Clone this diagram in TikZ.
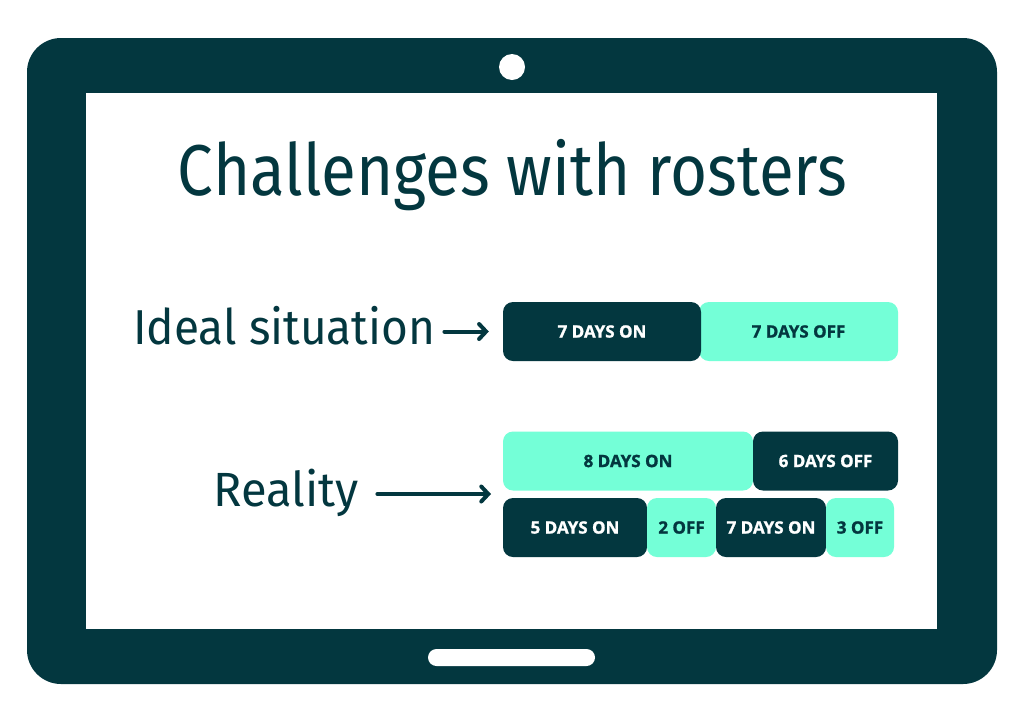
\documentclass[tikz,border=0pt]{standalone}
\usepackage{fontspec}
\usepackage{graphicx}
\usetikzlibrary{arrows.meta}
\newfontfamily\titlefont{Fira Sans}
\newfontfamily\boxfont{Open Sans}[BoldFeatures={FakeBold=1.3}]
\definecolor{tdark}{HTML}{03373F}
\definecolor{tlight}{HTML}{74FFD7}
\tikzset{
  rbox/.style={rounded corners=10pt, inner sep=0pt, minimum height=59pt,
    font=\boxfont\bfseries\fontsize{17}{17}\selectfont},
  darkbox/.style={rbox, fill=tdark, text=white},
  lightbox/.style={rbox, fill=tlight, text=tdark},
  lbl/.style={inner sep=0pt, anchor=base west, text=tdark},
  arr/.style={draw=tdark, line width=4pt, line cap=round,
    -{Straight Barb[length=7pt,width=15pt,line cap=round]}}
}
\begin{document}
\begin{tikzpicture}[x=1pt,y=-1pt]
\useasboundingbox (0,0) rectangle (1024,724);
\fill[white] (0,0) rectangle (1024,724);
% tablet
\fill[tdark, rounded corners=34pt] (27,38) rectangle (997,684);
\fill[white] (86,93) rectangle (937,629);
\fill[white] (512,67) circle (13pt);
\fill[white, rounded corners=8.5pt] (428,649) rectangle (595,666);
% title
\node[inner sep=0pt, anchor=base, text=tdark] (title) at (512.5,195)
  {\resizebox{669pt}{\height}{\titlefont\fontsize{72}{72}\selectfont Challenges with rosters}};
% labels
\node[lbl] (ideal) at (133,344)
  {\resizebox{302pt}{\height}{\titlefont\fontsize{49}{49}\selectfont Ideal situation}};
\node[lbl] (reality) at (213,506)
  {\resizebox{145pt}{\height}{\titlefont\fontsize{48}{48}\selectfont Reality}};
% ideal row
\node[lightbox, minimum width=199pt] (off7) at (798.5,331.5) {7 DAYS OFF};
\node[darkbox, minimum width=198pt] (on7) at (602,331.5) {7 DAYS ON};
% reality row 1
\node[lightbox, minimum width=250pt] (on8) at (628,461) {8 DAYS ON};
\node[darkbox, minimum width=145pt] (off6) at (825.5,461) {6 DAYS OFF};
% reality row 2
\node[darkbox, minimum width=144pt] (on5) at (575,527.5) {5 DAYS ON};
\node[lightbox, minimum width=69pt] (off2) at (681.5,527.5) {2 OFF};
\node[darkbox, minimum width=110pt] (on7b) at (771,527.5) {7 DAYS ON};
\node[lightbox, minimum width=68pt] (off3) at (860,527.5) {3 OFF};
% arrows
\coordinate (a1) at (ideal.east |- on7.west);
\draw[arr] ([xshift=9pt]a1) -- ([xshift=-14pt]on7.west);
\coordinate (rmid) at (503,494);
\coordinate (a2) at (reality.east |- rmid);
\draw[arr] ([xshift=19pt]a2) -- ([xshift=-12pt]rmid);
\end{tikzpicture}
\end{document}
